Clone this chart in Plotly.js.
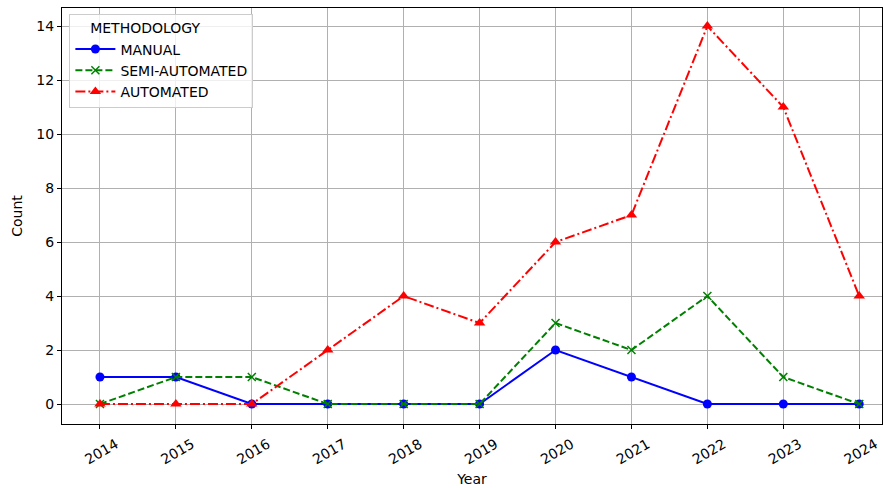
<!DOCTYPE html>
<html><head><meta charset="utf-8">
<script src="https://cdn.plot.ly/plotly-3.0.1.min.js"></script>
<style>html,body{margin:0;padding:0;background:#fff}#chart{width:883px;height:488px}</style>
</head><body><div id="chart"></div>
<script>
const years = [2014,2015,2016,2017,2018,2019,2020,2021,2022,2023,2024];
const manual = [1,1,0,0,0,0,2,1,0,0,0];
const semiAutomated = [0,1,1,0,0,0,3,2,4,1,0];
const automated = [0,0,0,2,4,3,6,7,14,11,4];
const yTicks = [0,2,4,6,8,10,12,14];

const traces = [
  {x: years, y: manual, name: 'MANUAL', mode: 'lines+markers',
   line: {color: 'blue', width: 2, dash: 'solid'},
   marker: {color: 'blue', symbol: 'circle', size: 9}},
  {x: years, y: semiAutomated, name: 'SEMI-AUTOMATED', mode: 'lines+markers',
   line: {color: 'green', width: 2, dash: '7px,3px'},
   marker: {color: 'green', symbol: 'x-thin', size: 8, line: {color: 'green', width: 1.5}}},
  {x: years, y: automated, name: 'AUTOMATED', mode: 'lines+markers',
   line: {color: 'red', width: 2, dash: '10px,3px,2px,3px'},
   marker: {color: 'red', symbol: 'triangle-up', size: 10}}
];

const layout = {
  width: 883, height: 488,
  margin: {l: 62, r: 1, t: 8, b: 64},
  paper_bgcolor: '#fff', plot_bgcolor: '#fff',
  font: {family: 'DejaVu Sans, sans-serif', size: 14, color: '#000'},
  showlegend: true,
  legend: {
    x: 0.009, y: 0.985, xanchor: 'left', yanchor: 'top',
    bgcolor: 'rgba(255,255,255,0.8)', bordercolor: '#ccc', borderwidth: 1,
    title: {text: '    METHODOLOGY', font: {size: 14}},
    font: {size: 14}, itemwidth: 40, tracegroupgap: 0
  },
  xaxis: {
    range: [2013.5, 2024.3], tickmode: 'array', tickvals: years, ticktext: years.map(String),
    tickangle: -30, ticklabelshift: 16, ticklabelstandoff: 2, showgrid: true, gridcolor: '#b0b0b0', gridwidth: 1,
    showline: true, linecolor: '#000', linewidth: 1, mirror: true,
    ticks: 'outside', ticklen: 4, tickcolor: '#000', zeroline: false,
    title: {text: 'Year', font: {size: 14}, standoff: 7},
    tickfont: {size: 14}
  },
  yaxis: {
    range: [-0.74, 14.67], tickmode: 'array', tickvals: yTicks,
    showgrid: true, gridcolor: '#b0b0b0', gridwidth: 1,
    showline: true, linecolor: '#000', linewidth: 1, mirror: true,
    ticks: 'outside', ticklen: 4, tickcolor: '#000', zeroline: false,
    title: {text: 'Count', font: {size: 14}, standoff: 10},
    tickfont: {size: 14}
  }
};
Plotly.newPlot('chart', traces, layout, {displayModeBar: false, staticPlot: true});
</script></body></html>
